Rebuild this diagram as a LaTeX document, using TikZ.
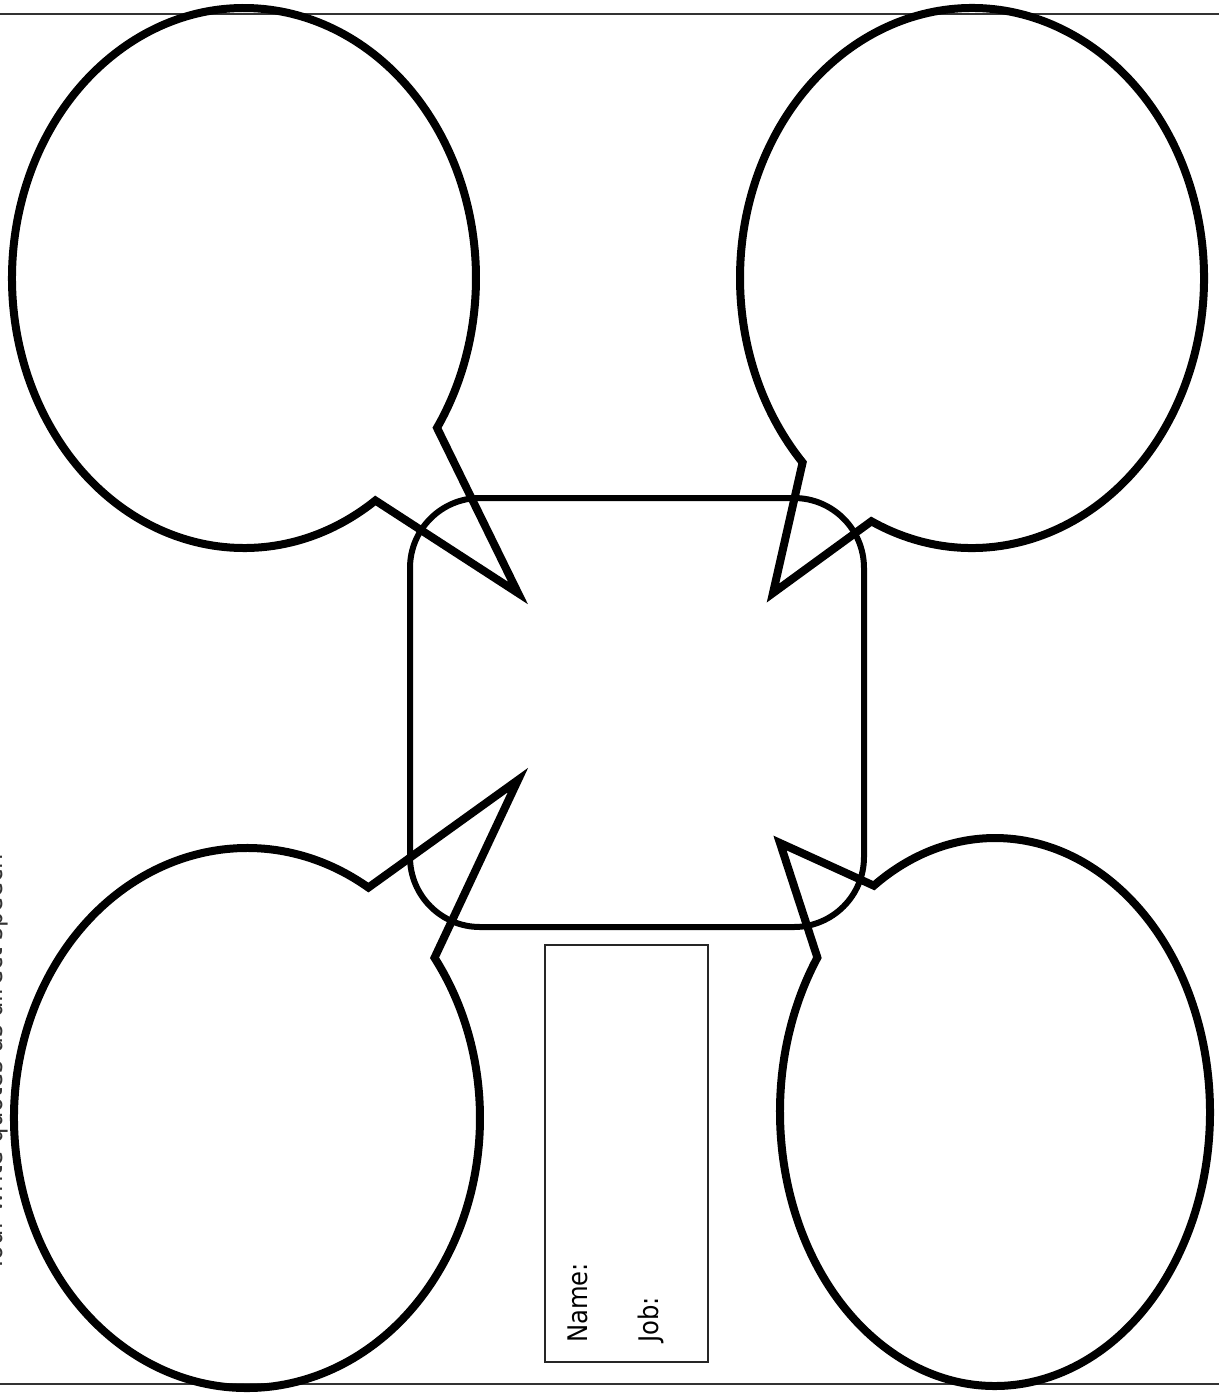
\documentclass[tikz,border=0pt]{standalone}
\usepackage{fontspec}
\newfontfamily\labelfont[FakeStretch=0.9]{DejaVu Sans}
\begin{document}
\begin{tikzpicture}[
  balloon/.style={line width=8pt, line join=miter, draw=black},
  lbl/.style={font=\labelfont\fontsize{27}{32}\selectfont, inner sep=0pt, rotate=90, anchor=base west},
  rule/.style={line width=2pt, draw=black!80}
]
\useasboundingbox (0,0) rectangle (1219pt,-1393pt);
% top and bottom rules
\draw[rule] (0,-14pt) -- (1219pt,-14pt);
\draw[rule] (0,-1384pt) -- (1219pt,-1384pt);
% balloons
\draw[balloon, shift={(244pt,-278pt)}] (-55.5:232pt and 270pt)
  arc[start angle=-55.5, end angle=-393.7, x radius=232pt, y radius=270pt]
  -- (274pt,-315pt) -- cycle;
\draw[balloon, shift={(972pt,-278pt)}] (-115.7:232pt and 270pt)
  arc[start angle=-115.7, end angle=223.1, x radius=232pt, y radius=270pt]
  -- (-199pt,-315pt) -- cycle;
\draw[balloon, shift={(247pt,-1118pt)}] (58.6:233pt and 270pt)
  arc[start angle=58.6, end angle=396.4, x radius=233pt, y radius=270pt]
  -- (271pt,338pt) -- cycle;
\draw[balloon, shift={(995pt,-1112pt)}] (145.7:215pt and 274pt)
  arc[start angle=145.7, end angle=484.3, x radius=215pt, y radius=274pt]
  -- (-215pt,269pt) -- cycle;
% centre box
\draw[line width=6pt, rounded corners=70pt] (410pt,-498pt) rectangle (864pt,-927pt);
% name box
\draw[line width=2.5pt, draw=black!85] (545pt,-945pt) rectangle (708pt,-1362pt);
\node[lbl] (name) at (587pt,-1343pt) {Name:};
\node[lbl] (job) at (658pt,-1343pt) {Job:};
% cut-off side text
\node[lbl, text=black!80] (quote) at (2pt,-1272pt) {Your write quotes as direct speech};
\end{tikzpicture}
\end{document}
